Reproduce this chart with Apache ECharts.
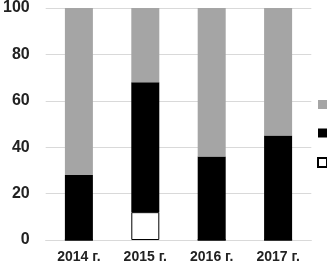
<!DOCTYPE html>
<html><head><meta charset="utf-8">
<script src="https://cdn.jsdelivr.net/npm/echarts@6/dist/echarts.min.js"></script>
<style>html,body{margin:0;padding:0;background:#fff}#c{width:327px;height:268px}</style>
</head><body><div id="c"></div>
<script>
const categories = ['2014 г.', '2015 г.', '2016 г.', '2017 г.'];
const whiteVals = [0, 12, 0, 0];
const blackVals = [28, 56, 36, 45];
const grayVals = [72, 32, 64, 55];
const yTicks = [0, 20, 40, 60, 80, 100];

const chart = echarts.init(document.getElementById('c'), null, {renderer: 'canvas'});
chart.setOption({
  animation: false,
  grid: {left: 44.7, right: 15.7, top: 6, bottom: 28, containLabel: false},
  legend: {
    orient: 'vertical', left: 317, top: 100, padding: 0, itemWidth: 9, itemHeight: 9, itemGap: 19.5,
    icon: 'rect', formatter: () => '', textStyle: {fontSize: 9, lineHeight: 9, padding: 0},
    data: ['Серия 3', 'Серия 2', 'Серия 1']
  },
  xAxis: {
    type: 'category', data: categories,
    axisLine: {show: true, lineStyle: {color: '#d9d9d9', width: 1}},
    axisTick: {show: false},
    axisLabel: {color: '#222', fontWeight: 'bold', fontSize: 14, fontFamily: 'Liberation Sans', margin: 10}
  },
  yAxis: {
    type: 'value', min: 0, max: 100, interval: 20,
    axisLine: {show: false}, axisTick: {show: false},
    splitLine: {lineStyle: {color: '#d9d9d9', width: 1}},
    axisLabel: {color: '#222', fontWeight: 'bold', fontSize: 16, fontFamily: 'Liberation Sans', margin: 16,
      formatter: v => yTicks.includes(v) ? String(v) : ''}
  },
  series: [
    {name: 'Серия 1', type: 'bar', stack: 's', data: whiteVals, barWidth: 28,
      itemStyle: {color: '#ffffff', borderColor: '#000', borderWidth: 1}},
    {name: 'Серия 2', type: 'bar', stack: 's', data: blackVals, barWidth: 28,
      itemStyle: {color: '#000000'}},
    {name: 'Серия 3', type: 'bar', stack: 's', data: grayVals, barWidth: 28,
      itemStyle: {color: '#a5a5a5'}}
  ]
});
</script></body></html>
